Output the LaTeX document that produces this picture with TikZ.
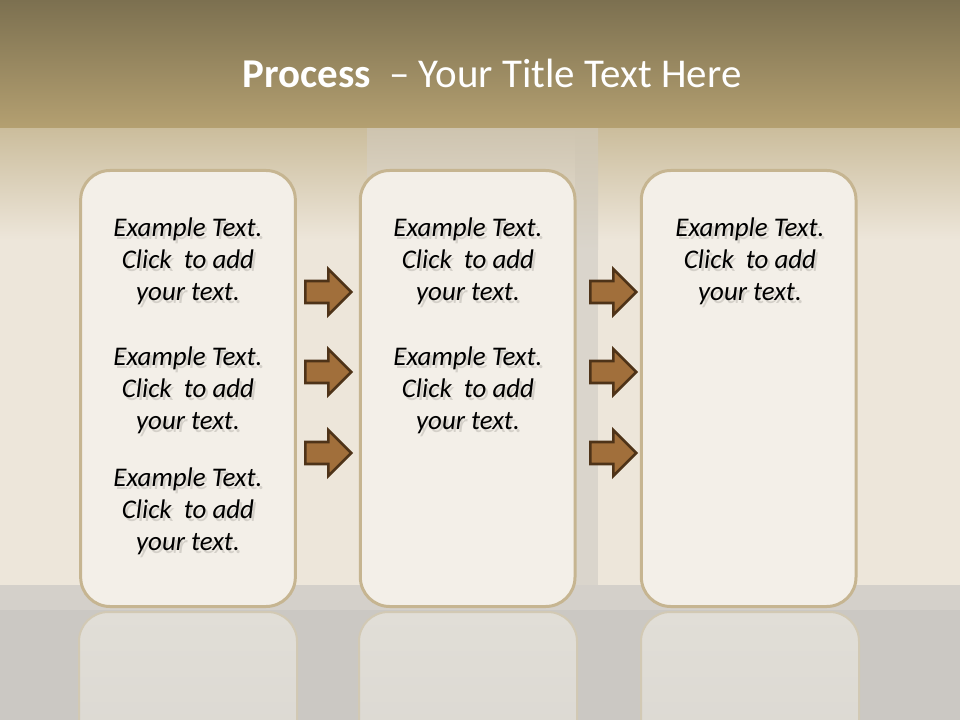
\documentclass[tikz,border=0pt]{standalone}
\usepackage{fontspec}
\setmainfont{Carlito}
\usetikzlibrary{positioning}
\usetikzlibrary{shapes.arrows}
\definecolor{bandtop}{HTML}{7C7050}
\definecolor{bandbot}{HTML}{B4A071}
\definecolor{walltop}{HTML}{CBBD9C}
\definecolor{wall}{HTML}{EDE6DA}
\definecolor{paneltop}{HTML}{CEC4AF}
\definecolor{panel}{HTML}{E8E2D8}
\definecolor{strip}{HTML}{DAD5CC}
\definecolor{floor}{HTML}{CBC8C3}
\definecolor{floorlight}{HTML}{D4D0CA}
\definecolor{cardline}{HTML}{C6B591}
\definecolor{cardfill}{HTML}{F3EFE8}
\definecolor{mirrortop}{HTML}{E1DED7}
\definecolor{mirrorbot}{HTML}{D0CDC8}
\definecolor{mirrorline}{HTML}{D2C9B4}
\definecolor{arrowfill}{HTML}{A16F3B}
\definecolor{arrowline}{HTML}{4E3318}
\definecolor{textshade}{HTML}{8E8A82}
\newcommand{\sampletext}{Example Text.\\Click~ to add\\your text.}
\tikzset{card/.style = {draw=cardline, line width=2.25pt, fill=cardfill, rounded corners=22pt, minimum width=161pt, minimum height=327pt, inner sep=0},
  blockarrow/.style = {single arrow, draw=arrowline, line width=1.9pt, fill=arrowfill, inner sep=7.3pt, single arrow head extend=9pt, minimum height=34.5pt, anchor=west},
  cardtext/.style = {align=center, font=\fontsize{20.2}{24}\selectfont\itshape, inner sep=0}}

\begin{document}
\begin{tikzpicture}[x=0.75pt, y=-0.75pt]
    \useasboundingbox (0,0) rectangle (960,720);
    % wall and floor
    \fill[wall] (0,128) rectangle (960,585);
    \shade[top color=walltop, bottom color=wall] (0,128) rectangle (960,240);
    \shade[top color=paneltop, bottom color=panel] (367,128) rectangle (597,250);
    \fill[panel] (367,250) rectangle (597,600);
    \shade[top color=paneltop, bottom color=strip] (575,128) rectangle (598,250);
    \fill[strip] (575,250) rectangle (598,600);
    \shade[top color=bandtop, bottom color=bandbot] (0,0) rectangle (960,128);
    \fill[floor] (0,585) rectangle (960,720);
    \fill[floorlight] (0,585) rectangle (960,610);
    \node[text=white, font=\fontsize{30.7}{36}\selectfont, anchor=base] (title) at (492,88) {\textbf{Process}\ \ – Your Title Text Here};
    % reflections
    \begin{scope}
      \clip (0,585) rectangle (960,720);
      \foreach \x in {79,359,641} {
          \shadedraw[top color=mirrortop, bottom color=mirrorbot, draw=mirrorline, line width=1.5pt, rounded corners=22pt] (\x,612) rectangle ++(218,437);
      }
    \end{scope}
    \node[card] (card1) at (188,388.5) {};
    \node[card, right=46.5pt of card1] (card2) {};
    \node[card, right=47.5pt of card2] (card3) {};
    \foreach \y [count=\i] in {292,372,453} {
        \node[blockarrow] (arrA\i) at (304,\y) {};
        \node[blockarrow] (arrB\i) at (589,\y) {};
    }
    \foreach \name/\x/\y in {t11/188/261, t12/188/390, t13/188/511, t21/468/261, t22/468/390, t31/750/261} {
        \node[cardtext, text=textshade, opacity=.3, xshift=1.8pt, yshift=-2.4pt] (\name-sh) at (\x,\y) {\sampletext}; % shadow
        \node[cardtext] (\name) at (\x,\y) {\sampletext};
    }
\end{tikzpicture}
\end{document}
